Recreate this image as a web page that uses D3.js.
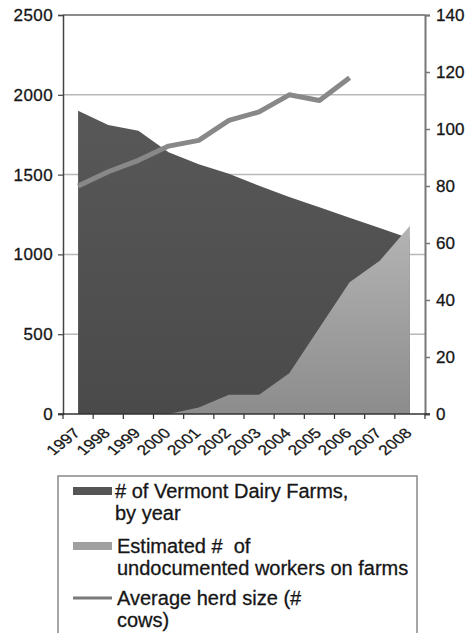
<!DOCTYPE html>
<html>
<head>
<meta charset="utf-8">
<script src="https://cdn.jsdelivr.net/npm/d3@7"></script>
<style>
  body { margin: 0; background: #ffffff; }
  text { font-family: "Liberation Sans", Arial, sans-serif; fill: #161616; stroke: #161616; stroke-width: 0.3px; }
</style>
</head>
<body>
<script>
// data
var years = ["1997", "1998", "1999", "2000", "2001", "2002", "2003", "2004", "2005", "2006", "2007", "2008"];
var farms = [1900, 1810, 1775, 1640, 1565, 1505, 1430, 1360, 1295, 1230, 1165, 1100];
var workers = [0, 0, 0, 0, 40, 120, 120, 255, 540, 825, 960, 1180];
var herd = [80, 85, 89, 94, 96, 103, 106, 112, 110, 118, null, null];
var leftTicks = [0, 500, 1000, 1500, 2000, 2500];
var rightTicks = [0, 20, 40, 60, 80, 100, 120, 140];
var legendItems = [
    { kind: "dark", lines: ["# of Vermont Dairy Farms,", "by year"] },
    { kind: "light", lines: ["Estimated #\u00a0 of", "undocumented workers on farms"] },
    { kind: "line", lines: ["Average herd size (#", "cows)"] }
];

var W = 473, H = 633;
var pLeft = 63, pRight = 425, pTop = 15, pBottom = 414;

var svg = d3.select("body")
    .append("svg")
    .attr("width", W)
    .attr("height", H);

svg.append("rect")
    .attr("width", W)
    .attr("height", H)
    .attr("fill", "#ffffff");

var defs = svg.append("defs");
var gd = defs.append("linearGradient")
    .attr("id", "darkFill")
    .attr("x1", 0).attr("y1", 0).attr("x2", 0).attr("y2", 1);
gd.append("stop").attr("offset", "0%").attr("stop-color", "#585858");
gd.append("stop").attr("offset", "100%").attr("stop-color", "#4a4a4a");
var gl = defs.append("linearGradient")
    .attr("id", "lightFill")
    .attr("x1", 0).attr("y1", 0).attr("x2", 0).attr("y2", 1);
gl.append("stop").attr("offset", "0%").attr("stop-color", "#b4b4b4");
gl.append("stop").attr("offset", "100%").attr("stop-color", "#8c8c8c");

var x = d3.scaleBand()
    .domain(years)
    .range([pLeft, pRight])
    .padding(0);
var cx = function (d, i) { return x(years[i]) + x.bandwidth() / 2; };

var yL = d3.scaleLinear().domain([0, 2500]).range([pBottom, pTop]);
var yR = d3.scaleLinear().domain([0, 140]).range([pBottom, pTop]);

// gridlines
svg.append("g")
    .selectAll("line")
    .data(leftTicks.filter(function (t) { return t > 0 && t < 2500; }))
    .join("line")
    .attr("x1", pLeft)
    .attr("x2", pRight)
    .attr("y1", function (d) { return yL(d); })
    .attr("y2", function (d) { return yL(d); })
    .attr("stroke", "#b8b8b8")
    .attr("stroke-width", 1.5);

svg.append("line")
    .attr("x1", pLeft)
    .attr("x2", pRight)
    .attr("y1", yL(2500))
    .attr("y2", yL(2500))
    .attr("stroke", "#666666")
    .attr("stroke-width", 1.5);

// areas
var area = d3.area()
    .x(cx)
    .y0(yL(0))
    .y1(function (d) { return yL(d); });
svg.append("path")
    .datum(farms)
    .attr("d", area)
    .attr("fill", "url(#darkFill)");

svg.append("path")
    .datum(workers)
    .attr("d", area)
    .attr("fill", "url(#lightFill)");

// herd line
var herdLine = d3.line()
    .defined(function (d) { return d != null; })
    .x(cx)
    .y(function (d) { return yR(d); });
svg.append("path")
    .datum(herd)
    .attr("d", herdLine)
    .attr("fill", "none")
    .attr("stroke", "#888888")
    .attr("stroke-width", 5)
    .attr("stroke-linejoin", "round");

// left axis
var axL = svg.append("g")
    .attr("transform", "translate(" + pLeft + ",0)")
    .call(d3.axisLeft(yL).tickValues(leftTicks).tickSize(5).tickPadding(5).tickFormat(d3.format("d")));
axL.select(".domain").attr("stroke", "#444444").attr("stroke-width", 1.5);
axL.selectAll(".tick line").attr("stroke", "#444444").attr("stroke-width", 1.2);
axL.selectAll("text").attr("font-size", 17).attr("fill", "#161616")
    .style("letter-spacing", "0.4px")
    .style("font-family", "Liberation Sans, Arial, sans-serif");

// right axis
var axR = svg.append("g")
    .attr("transform", "translate(" + pRight + ",0)")
    .call(d3.axisRight(yR).tickValues(rightTicks).tickSize(5).tickPadding(6));
axR.select(".domain").attr("stroke", "#777777").attr("stroke-width", 2);
axR.selectAll(".tick line").attr("stroke", "#777777").attr("stroke-width", 1.5);
axR.selectAll("text").attr("font-size", 17).attr("fill", "#161616")
    .style("font-family", "Liberation Sans, Arial, sans-serif");

// bottom axis
svg.append("line")
    .attr("x1", pLeft - 5)
    .attr("x2", pRight + 5)
    .attr("y1", pBottom)
    .attr("y2", pBottom)
    .attr("stroke", "#333333")
    .attr("stroke-width", 1.5);
svg.append("g")
    .selectAll("line")
    .data(years.concat(["end"]))
    .join("line")
    .attr("x1", function (d, i) { return pLeft + i * x.bandwidth(); })
    .attr("x2", function (d, i) { return pLeft + i * x.bandwidth(); })
    .attr("y1", pBottom)
    .attr("y2", pBottom + 5)
    .attr("stroke", "#333333")
    .attr("stroke-width", 1.2);
svg.append("g")
    .selectAll("text")
    .data(years)
    .join("text")
    .attr("transform", function (d, i) {
        return "translate(" + (cx(d, i) + 3) + "," + (pBottom + 20) + ") scale(1,0.8) rotate(-45)";
    })
    .attr("text-anchor", "end")
    .attr("font-size", 17.5)
    .text(function (d) { return d; });

// legend
svg.append("rect")
    .attr("x", 58)
    .attr("y", 476)
    .attr("width", 359)
    .attr("height", 170)
    .attr("fill", "#ffffff")
    .attr("stroke", "#888888")
    .attr("stroke-width", 1.5);

var itemY = [498, 553, 605];
var lg = svg.append("g")
    .selectAll("g")
    .data(legendItems)
    .join("g")
    .attr("transform", function (d, i) { return "translate(0," + itemY[i] + ")"; });

lg.each(function (d, i) {
    var g = d3.select(this);
    if (d.kind === "line") {
        g.append("line")
            .attr("x1", 73).attr("x2", 112)
            .attr("y1", -7).attr("y2", -7)
            .attr("stroke", "#7a7a7a")
            .attr("stroke-width", 3);
    } else {
        g.append("rect")
            .attr("x", 73)
            .attr("y", -11)
            .attr("width", 39)
            .attr("height", 8)
            .attr("fill", d.kind === "dark" ? "#555555" : "#a0a0a0");
    }
    var t = g.append("text")
        .attr("x", i === 0 ? 115 : 117)
        .attr("y", 0)
        .attr("font-size", 20);
    t.selectAll("tspan")
        .data(d.lines)
        .join("tspan")
        .attr("x", i === 0 ? 115 : 117)
        .attr("dy", function (s, j) { return j === 0 ? 0 : 22; })
        .text(function (s) { return s; });
});
</script>
</body>
</html>
